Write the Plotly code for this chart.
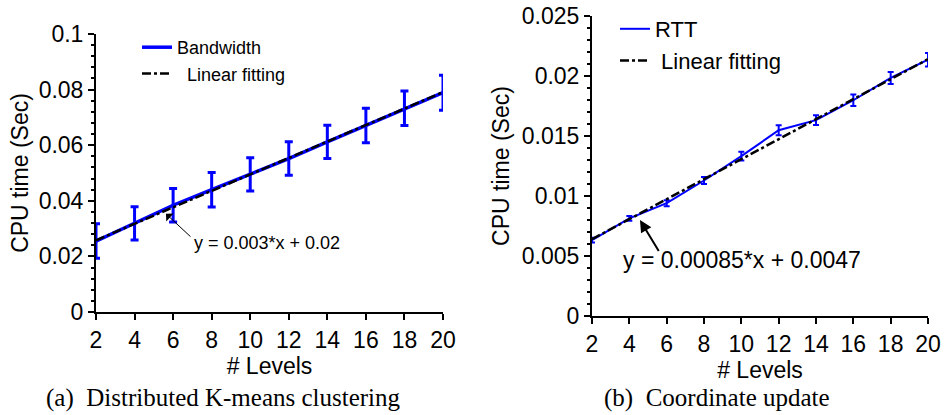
import plotly.graph_objects as go

# ---------------- data ----------------
levels = [2, 4, 6, 8, 10, 12, 14, 16, 18, 20]

bandwidth = [0.0255, 0.0319, 0.0384, 0.0440, 0.0495, 0.0552, 0.0612, 0.0671, 0.0733, 0.0789]
bandwidth_err = [0.0062, 0.0060, 0.0060, 0.0062, 0.0060, 0.0060, 0.0060, 0.0062, 0.0062, 0.0063]
fit_a_x = [2, 20]
fit_a_y = [0.0258, 0.0791]

rtt = [0.00633, 0.00813, 0.00940, 0.01129, 0.01332, 0.01548, 0.01632, 0.01798, 0.01984, 0.02136]
rtt_err = [0.0002, 0.0002, 0.00025, 0.0003, 0.00037, 0.00042, 0.0004, 0.00048, 0.0005, 0.00056]
fit_b_x = [2, 20]
fit_b_y = [0.0064, 0.0214]

x_ticks = [2, 4, 6, 8, 10, 12, 14, 16, 18, 20]
ya_ticks = [0, 0.02, 0.04, 0.06, 0.08, 0.1]
ya_text = ["0", "0.02", "0.04", "0.06", "0.08", "0.1"]
yb_ticks = [0, 0.005, 0.01, 0.015, 0.02, 0.025]
yb_text = ["0", "0.005", "0.01", "0.015", "0.02", "0.025"]

eq_a = "y = 0.003*x + 0.02"
eq_b = "y = 0.00085*x + 0.0047"
caption_a = "(a)  Distributed K-means clustering"
caption_b = "(b)  Coordinate update"

# ---------------- figure ----------------
W, H = 944, 415
SANS = "Liberation Sans, Arial, sans-serif"
SERIF = "Liberation Serif, Times New Roman, serif"
BLUE = "#0000ff"

def px_x(p):
    return p / W

def px_y(p):
    return 1 - p / H

fig = go.Figure()

fig.add_trace(go.Scatter(
    x=levels, y=bandwidth, mode="lines", name="Bandwidth",
    line=dict(color=BLUE, width=3.5),
    error_y=dict(type="data", array=bandwidth_err, color=BLUE, thickness=3, width=4),
    xaxis="x", yaxis="y", legend="legend", cliponaxis=False,
))
fig.add_trace(go.Scatter(
    x=fit_a_x, y=fit_a_y, mode="lines", name="\u00a0\u00a0Linear fitting",
    line=dict(color="black", width=2.5, dash="9px,3px,3px,3px"),
    xaxis="x", yaxis="y", legend="legend",
))
fig.add_trace(go.Scatter(
    x=levels, y=rtt, mode="lines", name="RTT",
    line=dict(color=BLUE, width=2),
    error_y=dict(type="data", array=rtt_err, color=BLUE, thickness=2, width=3),
    xaxis="x2", yaxis="y2", legend="legend2", cliponaxis=False,
))
fig.add_trace(go.Scatter(
    x=fit_b_x, y=fit_b_y, mode="lines", name="\u00a0Linear fitting",
    line=dict(color="black", width=2.5, dash="9px,3px,3px,3px"),
    xaxis="x2", yaxis="y2", legend="legend2",
))

axis_common = dict(
    showline=True, linecolor="black", linewidth=2, mirror=False,
    showgrid=False, zeroline=False,
    ticks="outside", ticklen=6, tickwidth=2, tickcolor="black",
    tickfont=dict(family=SANS, size=23, color="black"),
    title_font=dict(family=SANS, size=23, color="black"),
)

fig.update_layout(
    width=W, height=H,
    margin=dict(l=0, r=0, t=0, b=0),
    paper_bgcolor="white", plot_bgcolor="white",
    showlegend=True,
    xaxis=dict(domain=[px_x(96), px_x(443)], range=[2, 20], anchor="y",
               tickvals=x_ticks, title=dict(text="# Levels", standoff=0),
               automargin=False, **axis_common),
    yaxis=dict(domain=[px_y(312), px_y(34)], range=[0, 0.1], anchor="x",
               tickvals=ya_ticks, ticktext=ya_text,
               title=dict(text="CPU time (Sec)", standoff=4),
               minor=dict(ticks="outside", ticklen=3, tickwidth=1.5, tickcolor="black", dtick=0.004),
               automargin=False, **axis_common),
    xaxis2=dict(domain=[px_x(592), px_x(928)], range=[2, 20], anchor="y2",
                tickvals=x_ticks, title=dict(text="# Levels", standoff=0),
                automargin=False, **axis_common),
    yaxis2=dict(domain=[px_y(316), px_y(16)], range=[0, 0.025], anchor="x2",
                tickvals=yb_ticks, ticktext=yb_text,
                title=dict(text="CPU time (Sec)", standoff=6),
                minor=dict(ticks="outside", ticklen=3, tickwidth=1.5, tickcolor="black", dtick=0.001),
                automargin=False, **axis_common),
    legend=dict(x=px_x(137), y=px_y(29), xanchor="left", yanchor="top",
                bgcolor="rgba(0,0,0,0)", borderwidth=0, itemwidth=30,
                font=dict(family=SANS, size=18, color="black"), tracegroupgap=0),
    legend2=dict(x=px_x(615), y=px_y(8), xanchor="left", yanchor="top",
                 bgcolor="rgba(0,0,0,0)", borderwidth=0, itemwidth=30,
                 font=dict(family=SANS, size=22, color="black"), tracegroupgap=0),
)

annotations = [
    # arrow (a)
    dict(x=5.63, y=0.0353, ax=6.98, ay=0.0266, xref="x", yref="y", axref="x", ayref="y",
         text=" ", font=dict(size=1), showarrow=True, arrowhead=1, arrowsize=1.8,
         arrowwidth=1, arrowcolor="black", standoff=0, startstandoff=0),
    dict(x=6.98, y=0.0248, xref="x", yref="y", text=eq_a, showarrow=False,
         xanchor="left", yanchor="middle", font=dict(family=SANS, size=18, color="black")),
    # arrow (b)
    dict(x=4.57, y=0.0080, ax=5.64, ay=0.00525, xref="x2", yref="y2", axref="x2", ayref="y2",
         text=" ", font=dict(size=1), showarrow=True, arrowhead=2, arrowsize=1.2,
         arrowwidth=2, arrowcolor="black", standoff=0, startstandoff=0),
    dict(x=3.55, y=0.00467, xref="x2", yref="y2", text=eq_b, showarrow=False,
         xanchor="left", yanchor="middle", font=dict(family=SANS, size=23, color="black")),
    # captions
    dict(x=px_x(45), y=px_y(413), xref="paper", yref="paper", text=caption_a, showarrow=False,
         xanchor="left", yanchor="bottom", borderpad=0,
         font=dict(family=SERIF, size=25, color="black")),
    dict(x=px_x(603), y=px_y(413), xref="paper", yref="paper", text=caption_b, showarrow=False,
         xanchor="left", yanchor="bottom", borderpad=0,
         font=dict(family=SERIF, size=25, color="black")),
]
fig.update_layout(annotations=annotations)

fig.write_html("out.html")
